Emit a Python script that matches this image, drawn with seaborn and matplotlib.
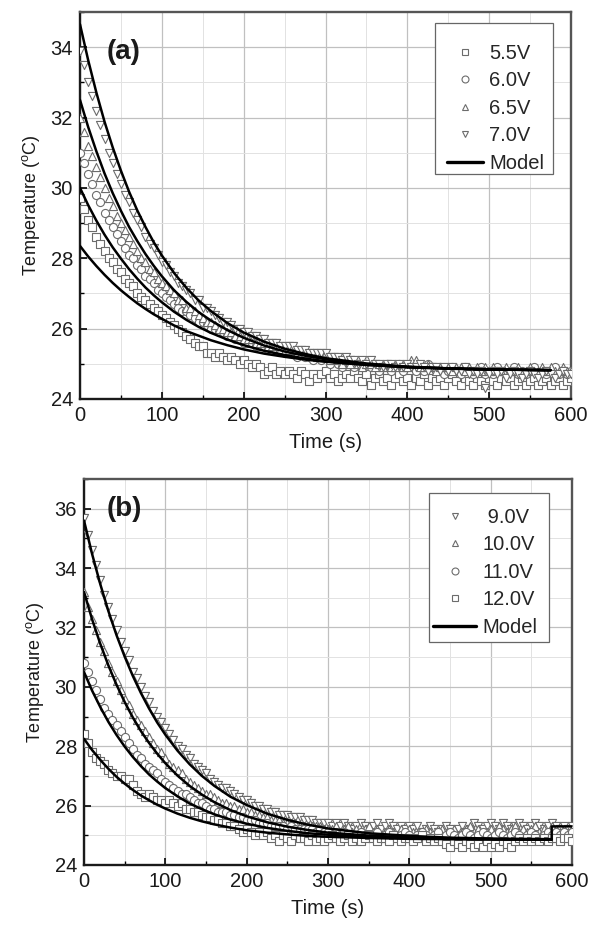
import matplotlib
matplotlib.use("Agg")
import matplotlib.pyplot as plt
import seaborn as sns
import pandas as pd
from matplotlib.ticker import MultipleLocator
from matplotlib.lines import Line2D
from matplotlib.patches import Rectangle

# ---------------- data ----------------
T_DATA = list(range(0, 601, 5))   # sampling times (s)

# panel (a)
A_55 = [29.7, 29.4, 29.1, 28.9, 28.6, 28.4, 28.2, 28.0, 27.9, 27.7,
        27.6, 27.4, 27.3, 27.2, 27.0, 26.9, 26.8, 26.7, 26.6, 26.5,
        26.4, 26.3, 26.2, 26.1, 26.0, 25.9, 25.8, 25.7, 25.6, 25.5,
        25.5, 25.3, 25.3, 25.2, 25.3, 25.2, 25.1, 25.2, 25.1, 25.0,
        25.1, 25.0, 24.9, 25.0, 24.9, 24.7, 24.8, 24.9, 24.7, 24.8,
        24.7, 24.8, 24.7, 24.6, 24.8, 24.7, 24.5, 24.7, 24.6, 24.7,
        24.8, 24.6, 24.7, 24.5, 24.6, 24.7, 24.6, 24.8, 24.6, 24.5,
        24.7, 24.4, 24.6, 24.7, 24.5, 24.6, 24.4, 24.6, 24.7, 24.5,
        24.6, 24.4, 24.6, 24.5, 24.7, 24.4, 24.6, 24.5, 24.6, 24.4,
        24.6, 24.7, 24.5, 24.4, 24.6, 24.5, 24.4, 24.6, 24.5, 24.4,
        24.6, 24.5, 24.4, 24.6, 24.5, 24.6, 24.4, 24.5, 24.6, 24.4,
        24.5, 24.6, 24.4, 24.5, 24.6, 24.4, 24.5, 24.6, 24.4, 24.5,
        24.6]
A_60 = [31.0, 30.7, 30.4, 30.1, 29.8, 29.6, 29.3, 29.1, 28.9, 28.7,
        28.5, 28.3, 28.1, 28.0, 27.8, 27.7, 27.5, 27.4, 27.3, 27.1,
        27.0, 26.9, 26.8, 26.7, 26.6, 26.5, 26.5, 26.4, 26.3, 26.2,
        26.2, 26.1, 26.0, 26.0, 25.9, 25.9, 25.8, 25.8, 25.7, 25.7,
        25.6, 25.6, 25.6, 25.5, 25.5, 25.5, 25.4, 25.4, 25.4, 25.4,
        25.3, 25.3, 25.3, 25.2, 25.3, 25.2, 25.2, 25.1, 25.2, 25.1,
        25.2, 25.0, 25.1, 25.0, 24.9, 25.1, 25.0, 24.9, 25.0, 24.9,
        25.0, 24.9, 25.0, 24.8, 24.9, 25.0, 24.8, 24.9, 25.0, 24.8,
        24.9, 25.0, 24.8, 24.9, 24.8, 25.0, 24.9, 24.8, 24.9, 24.7,
        24.8, 24.9, 24.8, 24.7, 24.9, 24.8, 24.7, 24.8, 24.9, 24.7,
        24.8, 24.7, 24.9, 24.8, 24.7, 24.8, 24.9, 24.7, 24.8, 24.7,
        24.8, 24.9, 24.7, 24.8, 24.7, 24.8, 24.9, 24.7, 24.8, 24.7,
        24.8]
A_65 = [32.0, 31.6, 31.2, 30.9, 30.6, 30.3, 30.0, 29.7, 29.5, 29.2,
        29.0, 28.8, 28.6, 28.4, 28.2, 28.0, 27.9, 27.7, 27.6, 27.4,
        27.3, 27.2, 27.1, 27.0, 26.8, 26.8, 26.6, 26.6, 26.5, 26.4,
        26.3, 26.2, 26.2, 26.1, 26.0, 26.0, 25.9, 25.9, 25.8, 25.8,
        25.7, 25.7, 25.7, 25.6, 25.6, 25.6, 25.5, 25.5, 25.5, 25.4,
        25.4, 25.4, 25.4, 25.3, 25.3, 25.3, 25.3, 25.3, 25.2, 25.2,
        25.2, 25.1, 25.2, 25.1, 25.0, 25.1, 25.0, 25.1, 25.0, 24.9,
        25.0, 25.0, 24.9, 25.0, 24.9, 25.0, 24.9, 24.9, 25.0, 24.9,
        24.9, 25.1, 25.1, 24.9, 24.9, 25.0, 24.9, 24.8, 24.9, 24.9,
        24.9, 24.8, 24.9, 24.9, 24.8, 24.9, 24.8, 24.9, 24.8, 24.9,
        24.8, 24.9, 24.8, 24.8, 24.9, 24.8, 24.8, 24.9, 24.8, 24.8,
        24.9, 24.8, 24.8, 24.9, 24.8, 24.9, 24.8, 24.8, 24.9, 24.8,
        24.8]
A_70 = [33.9, 33.5, 33.0, 32.6, 32.2, 31.8, 31.4, 31.0, 30.7, 30.4,
        30.1, 29.8, 29.6, 29.3, 29.1, 28.9, 28.6, 28.4, 28.3, 28.1,
        27.9, 27.8, 27.6, 27.5, 27.3, 27.2, 27.1, 27.0, 26.8, 26.8,
        26.6, 26.6, 26.5, 26.4, 26.3, 26.2, 26.2, 26.1, 26.0, 26.0,
        25.9, 25.9, 25.8, 25.8, 25.7, 25.7, 25.6, 25.6, 25.6, 25.5,
        25.5, 25.5, 25.5, 25.4, 25.4, 25.4, 25.3, 25.3, 25.3, 25.3,
        25.3, 25.2, 25.2, 25.2, 25.1, 25.2, 25.1, 25.1, 25.0, 25.1,
        25.0, 25.1, 25.0, 25.0, 24.9, 25.0, 25.0, 24.9, 25.0, 24.9,
        25.0, 24.9, 24.9, 25.0, 24.9, 24.8, 24.9, 24.9, 24.8, 24.9,
        24.8, 24.9, 24.8, 24.8, 24.9, 24.7, 24.8, 24.7, 24.8, 24.3,
        24.7, 24.8, 24.7, 24.8, 24.6, 24.7, 24.8, 24.7, 24.6, 24.7,
        24.8, 24.7, 24.6, 24.7, 24.8, 24.7, 24.6, 24.7, 24.8, 24.7,
        24.7]

# panel (b)
B_90 = [35.7, 35.1, 34.6, 34.1, 33.6, 33.1, 32.7, 32.3, 31.9, 31.5,
        31.2, 30.9, 30.5, 30.3, 30.0, 29.7, 29.5, 29.2, 29.0, 28.8,
        28.6, 28.4, 28.2, 28.0, 27.9, 27.7, 27.6, 27.4, 27.3, 27.2,
        27.1, 26.9, 26.8, 26.7, 26.6, 26.6, 26.5, 26.4, 26.3, 26.2,
        26.2, 26.1, 26.0, 26.0, 25.9, 25.9, 25.8, 25.8, 25.7, 25.7,
        25.7, 25.6, 25.6, 25.6, 25.5, 25.5, 25.5, 25.4, 25.4, 25.4,
        25.4, 25.3, 25.4, 25.3, 25.4, 25.3, 25.2, 25.3, 25.4, 25.3,
        25.2, 25.3, 25.4, 25.2, 25.3, 25.4, 25.3, 25.2, 25.3, 25.2,
        25.3, 25.2, 25.3, 25.1, 25.2, 25.3, 25.2, 25.1, 25.2, 25.3,
        25.2, 25.1, 25.2, 25.3, 25.1, 25.2, 25.4, 25.3, 25.2, 25.3,
        25.4, 25.3, 25.2, 25.4, 25.3, 25.2, 25.3, 25.4, 25.3, 25.2,
        25.3, 25.4, 25.3, 25.2, 25.3, 25.4, 25.3, 25.2, 25.3, 25.2,
        25.3]
B_100 = [33.2, 32.7, 32.3, 31.9, 31.5, 31.2, 30.8, 30.5, 30.2, 29.9,
         29.6, 29.4, 29.1, 28.9, 28.7, 28.5, 28.3, 28.1, 27.9, 27.8,
         27.6, 27.4, 27.3, 27.2, 27.1, 26.9, 26.8, 26.7, 26.6, 26.5,
         26.4, 26.4, 26.3, 26.2, 26.1, 26.1, 26.0, 26.0, 25.9, 25.9,
         25.8, 25.8, 25.7, 25.7, 25.6, 25.6, 25.5, 25.5, 25.5, 25.4,
         25.4, 25.4, 25.4, 25.3, 25.3, 25.3, 25.3, 25.3, 25.3, 25.2,
         25.2, 25.2, 25.3, 25.1, 25.2, 25.3, 25.1, 25.2, 25.1, 25.2,
         25.3, 25.1, 25.2, 25.0, 25.1, 25.2, 25.1, 25.0, 25.2, 25.1,
         25.2, 25.1, 25.0, 25.1, 25.2, 25.1, 25.0, 25.1, 25.2, 25.0,
         25.1, 25.2, 25.0, 25.1, 25.2, 25.3, 25.1, 25.2, 25.0, 25.1,
         25.2, 25.1, 25.3, 25.2, 25.1, 25.2, 25.3, 25.1, 25.2, 25.1,
         25.2, 25.3, 25.1, 25.2, 25.1, 25.3, 25.2, 25.1, 25.2, 25.1,
         25.2]
B_110 = [30.8, 30.5, 30.2, 29.9, 29.6, 29.3, 29.1, 28.9, 28.7, 28.5,
         28.3, 28.1, 27.9, 27.7, 27.6, 27.4, 27.3, 27.2, 27.1, 26.9,
         26.8, 26.7, 26.6, 26.5, 26.4, 26.4, 26.3, 26.2, 26.1, 26.1,
         26.0, 25.9, 25.9, 25.8, 25.8, 25.8, 25.7, 25.7, 25.6, 25.6,
         25.5, 25.5, 25.5, 25.4, 25.4, 25.4, 25.3, 25.3, 25.3, 25.3,
         25.2, 25.3, 25.2, 25.2, 25.2, 25.2, 25.2, 25.1, 25.2, 25.1,
         25.1, 25.0, 25.1, 25.0, 25.1, 25.0, 24.9, 25.0, 25.1, 25.0,
         24.9, 25.0, 25.1, 24.9, 25.0, 25.1, 25.0, 24.9, 25.0, 25.1,
         25.0, 24.9, 25.0, 25.1, 25.0, 24.9, 25.0, 25.1, 24.9, 25.0,
         25.1, 25.0, 24.9, 25.0, 25.1, 25.0, 24.9, 25.0, 25.1, 25.0,
         24.9, 25.0, 25.1, 25.0, 24.9, 25.0, 25.1, 25.0, 24.9, 25.0,
         25.1, 25.0, 24.9, 25.0, 25.1, 25.0, 25.1, 25.0, 25.1, 25.0,
         25.1]
B_120 = [28.4, 28.1, 27.8, 27.6, 27.5, 27.4, 27.2, 27.1, 27.0, 27.0,
         26.9, 26.9, 26.7, 26.5, 26.4, 26.3, 26.4, 26.3, 26.2, 26.2,
         26.1, 26.2, 26.1, 26.0, 26.1, 25.9, 25.9, 25.8, 25.8, 25.7,
         25.6, 25.6, 25.5, 25.5, 25.4, 25.4, 25.3, 25.3, 25.2, 25.1,
         25.2, 25.1, 25.0, 25.1, 25.0, 25.1, 24.9, 25.0, 24.8, 25.0,
         24.9, 24.8, 25.0, 24.9, 24.9, 24.8, 25.0, 24.8, 24.9, 24.8,
         24.9, 25.0, 24.9, 24.8, 24.9, 25.0, 24.8, 24.9, 24.8, 24.9,
         25.0, 24.9, 24.8, 24.9, 24.9, 24.8, 25.0, 24.9, 24.8, 24.9,
         24.9, 24.8, 24.9, 25.0, 24.8, 24.9, 24.8, 24.9, 24.8, 24.7,
         24.6, 24.8, 24.7, 24.6, 24.8, 24.7, 24.6, 24.7, 24.6, 24.8,
         24.6, 24.7, 24.6, 24.8, 24.7, 24.6, 24.8, 24.9, 24.8, 24.9,
         24.8, 24.9, 24.8, 24.9, 24.8, 24.9, 24.9, 24.8, 24.9, 24.9,
         24.8]

# model curves
MODEL_T = [0, 10, 20, 30, 40, 50, 60, 70, 80, 90, 100, 115, 130, 145, 160,
           180, 200, 225, 250, 275, 300, 350, 400, 450, 500, 575]
MA_70 = [34.65, 33.63, 32.71, 31.88, 31.15, 30.49, 29.89, 29.36, 28.89, 28.46, 28.08,
         27.58, 27.16, 26.80, 26.50, 26.16, 25.89, 25.63, 25.43, 25.28, 25.16,
         25.01, 24.92, 24.87, 24.84, 24.82]
MA_65 = [32.50, 31.73, 31.04, 30.41, 29.85, 29.35, 28.89, 28.49, 28.12, 27.79, 27.49,
         27.09, 26.76, 26.47, 26.23, 25.96, 25.74, 25.52, 25.35, 25.23, 25.13,
         24.99, 24.91, 24.87, 24.84, 24.82]
MA_60 = [30.00, 29.51, 29.07, 28.67, 28.31, 27.99, 27.69, 27.42, 27.17, 26.95, 26.75,
         26.48, 26.25, 26.05, 25.88, 25.69, 25.53, 25.37, 25.25, 25.15, 25.07,
         24.97, 24.90, 24.86, 24.84, 24.82]
MA_55 = [28.35, 28.05, 27.78, 27.53, 27.30, 27.09, 26.90, 26.72, 26.56, 26.41, 26.28,
         26.09, 25.93, 25.80, 25.67, 25.53, 25.41, 25.29, 25.20, 25.12, 25.06,
         24.97, 24.91, 24.87, 24.84, 24.82]
MODEL_T_STEP = MODEL_T + [575, 600]
MB_90 = [35.60, 34.47, 33.46, 32.55, 31.74, 31.02, 30.37, 29.79, 29.27, 28.80, 28.39,
         27.85, 27.39, 27.00, 26.67, 26.30, 26.02, 25.73, 25.52, 25.36, 25.23,
         25.07, 24.98, 24.92, 24.89, 24.87, 25.30, 25.30]
MB_100 = [33.20, 32.27, 31.45, 30.72, 30.07, 29.49, 28.97, 28.51, 28.11, 27.75, 27.43,
          27.01, 26.66, 26.37, 26.12, 25.85, 25.64, 25.44, 25.29, 25.18, 25.09,
          24.99, 24.93, 24.89, 24.87, 24.86]
MB_110 = [30.50, 29.87, 29.32, 28.82, 28.38, 27.99, 27.64, 27.33, 27.05, 26.81, 26.59,
          26.31, 26.07, 25.88, 25.71, 25.53, 25.39, 25.25, 25.15, 25.07, 25.02,
          24.94, 24.90, 24.88, 24.87, 24.86]
MB_120 = [28.25, 27.87, 27.54, 27.24, 26.97, 26.74, 26.53, 26.34, 26.18, 26.03, 25.90,
          25.73, 25.59, 25.47, 25.37, 25.26, 25.17, 25.09, 25.03, 24.98, 24.95,
          24.91, 24.88, 24.87, 24.86, 24.85]

LABELS_A = ["5.5V", "6.0V", "6.5V", "7.0V", "Model"]
LABELS_B = [" 9.0V", "10.0V", "11.0V", "12.0V", "Model"]
X_TICKS = [0, 100, 200, 300, 400, 500, 600]
Y_TICKS_A = [24, 26, 28, 30, 32, 34]
Y_TICKS_B = [24, 26, 28, 30, 32, 34, 36]

# ---------------- style ----------------
sns.set_theme(style="whitegrid")
plt.rcParams["font.family"] = ["Liberation Sans", "DejaVu Sans"]
plt.rcParams["mathtext.fontset"] = "custom"
plt.rcParams["mathtext.rm"] = "Liberation Sans"
plt.rcParams["mathtext.it"] = "Liberation Sans:italic"
plt.rcParams["axes.unicode_minus"] = False

MK_EDGE = "#6c6c6c"
FS = 14.5
W, H = 599, 926

fig = plt.figure(figsize=(5.99, 9.26), dpi=100)
ax1 = fig.add_axes([80 / W, 1 - 399 / H, 491 / W, 387 / H])
ax2 = fig.add_axes([84 / W, 1 - 865 / H, 488 / W, 386 / H])


def draw(ax, series, models, ylim, yticks, tag, tagpos, labels, box, content, hlen):
    for vals, mk in series:
        sns.scatterplot(x=T_DATA, y=vals, marker=mk, s=34, color="white",
                        edgecolor=MK_EDGE, linewidth=0.8, ax=ax, legend=False,
                        zorder=3)
    for mt, mv in models:
        sns.lineplot(x=mt, y=mv, color="black", lw=1.8, estimator=None,
                     sort=False, ax=ax, legend=False, zorder=4)
    ax.set_xlim(0, 600)
    ax.set_ylim(*ylim)
    ax.set_xticks(X_TICKS)
    ax.set_yticks(yticks)
    ax.xaxis.set_minor_locator(MultipleLocator(50))
    ax.yaxis.set_minor_locator(MultipleLocator(1))
    ax.grid(which="major", color="#c0c0c0", lw=0.9)
    ax.grid(which="minor", color="#e2e2e2", lw=0.7)
    ax.set_axisbelow(True)
    ax.tick_params(which="major", direction="in", length=5, width=1.2,
                   color="black", labelsize=FS, pad=5, left=True, bottom=True,
                   labelcolor="#1a1a1a")
    ax.tick_params(which="minor", direction="in", length=3, width=1.0,
                   color="black", left=True, bottom=True)
    for side in ["left", "bottom"]:
        ax.spines[side].set_color("#1a1a1a")
        ax.spines[side].set_linewidth(1.7)
    for side in ["top", "right"]:
        ax.spines[side].set_color("#555555")
        ax.spines[side].set_linewidth(1.7)
    ax.set_xlabel("Time (s)", fontsize=FS, labelpad=6, color="#1a1a1a")
    ax.set_ylabel(r"Temperature ($^\mathrm{o}$C)", fontsize=13, labelpad=6,
                  color="#1a1a1a")
    ax.text(tagpos[0], tagpos[1], tag, transform=ax.transAxes, fontsize=20,
            fontweight="bold", ha="left", va="center", zorder=6,
            color="#1a1a1a")
    # legend frame (figure pixel box)
    x0, y0, x1, y1 = box
    ax.add_patch(Rectangle((x0 / W, 1 - y1 / H), (x1 - x0) / W, (y1 - y0) / H,
                           transform=fig.transFigure, facecolor="white",
                           edgecolor="#666666", lw=0.9, zorder=6, clip_on=False))
    handles = [Line2D([], [], marker=mk, ls="none", mfc="white", mec=MK_EDGE,
                      ms=5, mew=0.8) for _, mk in series]
    handles.append(Line2D([], [], color="black", lw=2.4))
    leg = ax.legend(handles, labels, loc="upper left",
                    bbox_to_anchor=(content[0] / W, 1 - content[1] / H),
                    bbox_transform=fig.transFigure, borderaxespad=0,
                    borderpad=0, fontsize=FS, frameon=False,
                    handlelength=hlen, handletextpad=0.3, labelspacing=0.42)
    leg.set_zorder(7)
    return leg


draw(ax1, [(A_55, "s"), (A_60, "o"), (A_65, "^"), (A_70, "v")],
     [(MODEL_T, MA_70), (MODEL_T, MA_65), (MODEL_T, MA_60), (MODEL_T, MA_55)],
     (24, 35), Y_TICKS_A, "(a)", (0.055, 0.897), LABELS_A,
     (435, 23, 553, 174), (447, 44), 1.8)
draw(ax2, [(B_90, "v"), (B_100, "^"), (B_110, "o"), (B_120, "s")],
     [(MODEL_T_STEP, MB_90), (MODEL_T, MB_100), (MODEL_T, MB_110),
      (MODEL_T, MB_120)],
     (24, 37), Y_TICKS_B, "(b)", (0.047, 0.922), LABELS_B,
     (429, 493, 549, 642), (433, 508), 2.15)

fig.savefig("out.png", dpi=100)
